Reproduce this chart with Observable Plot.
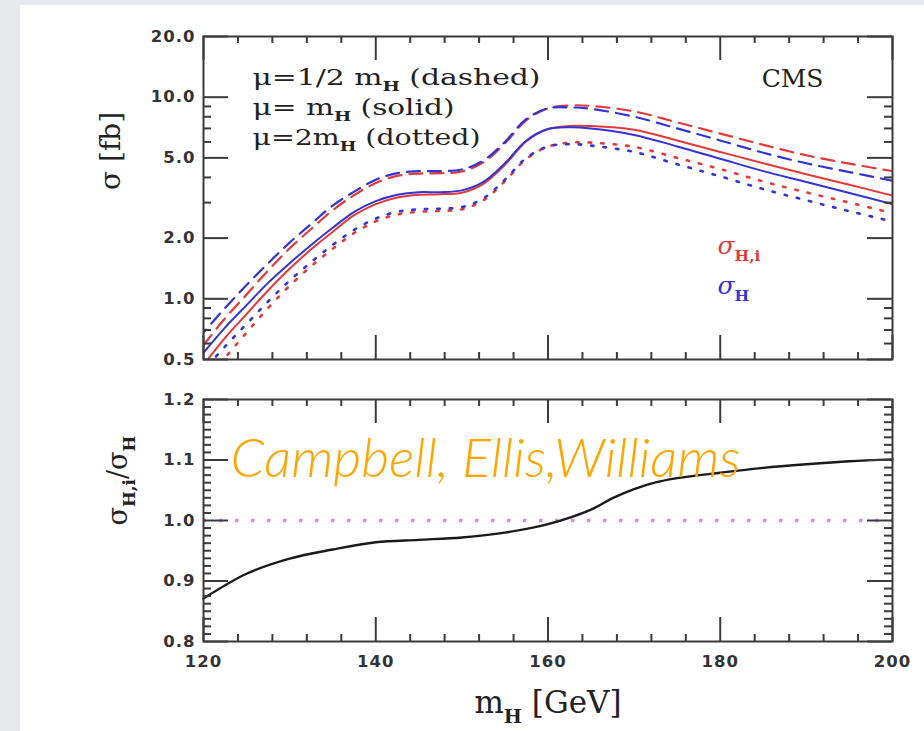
<!DOCTYPE html>
<html>
<head>
<meta charset="utf-8">
<script src="https://cdn.jsdelivr.net/npm/d3@7"></script>
<script src="https://cdn.jsdelivr.net/npm/@observablehq/plot@0.6"></script>
<style>
  body { margin: 0; width: 924px; height: 731px; overflow: hidden; position: relative; background: #e8e9ed; }
  #sheet { position: absolute; left: 20px; top: 5px; right: 0; bottom: 0; background: #fff; }
  .panel { position: absolute; left: 0; }
</style>
</head>
<body>
<div id="sheet"></div>
<div id="top" class="panel" style="top:0px"></div>
<div id="bottom" class="panel" style="top:380px"></div>
<script>
// Higgs mass grid (GeV) for the cross sections
const mH = [120, 122.5, 125, 127.5, 130, 132.5, 135, 137.5, 140, 142.5, 145, 147.5, 150, 152.5, 155, 157.5, 160, 162.5, 165, 170, 175, 180, 185, 190, 195, 200];

// sigma_H (blue) for mu = mH/2, mH, 2mH  [fb]
const sigHDashed = [0.68, 0.90, 1.17, 1.50, 1.90, 2.35, 2.90, 3.40, 3.90, 4.20, 4.30, 4.30, 4.38, 4.85, 6.00, 7.80, 8.80, 8.90, 8.75, 8.00, 7.00, 6.10, 5.30, 4.70, 4.25, 3.85];
const sigHSolid  = [0.54, 0.72, 0.93, 1.20, 1.50, 1.85, 2.25, 2.70, 3.05, 3.28, 3.38, 3.38, 3.45, 3.80, 4.70, 6.10, 6.95, 7.10, 7.00, 6.50, 5.70, 4.95, 4.30, 3.80, 3.35, 2.95];
const sigHDotted = [0.44, 0.58, 0.75, 0.97, 1.23, 1.52, 1.85, 2.20, 2.50, 2.70, 2.78, 2.80, 2.85, 3.15, 3.90, 5.00, 5.70, 5.85, 5.75, 5.35, 4.65, 4.05, 3.50, 3.08, 2.72, 2.42];

// sigma_H,i (red) for mu = mH/2, mH, 2mH  [fb]
const sigHiDashed = [0.59, 0.80, 1.05, 1.38, 1.78, 2.22, 2.75, 3.27, 3.75, 4.07, 4.18, 4.20, 4.28, 4.75, 5.90, 7.70, 8.80, 9.10, 9.05, 8.50, 7.50, 6.60, 5.80, 5.15, 4.68, 4.30];
const sigHiSolid  = [0.47, 0.64, 0.84, 1.10, 1.41, 1.76, 2.15, 2.60, 2.95, 3.18, 3.28, 3.30, 3.36, 3.72, 4.62, 6.05, 6.95, 7.20, 7.20, 6.90, 6.10, 5.35, 4.70, 4.15, 3.68, 3.25];
const sigHiDotted = [0.38, 0.51, 0.68, 0.90, 1.16, 1.45, 1.77, 2.12, 2.42, 2.62, 2.70, 2.73, 2.78, 3.08, 3.83, 4.95, 5.68, 5.95, 5.95, 5.67, 5.00, 4.40, 3.82, 3.37, 3.00, 2.66];

// ratio sigma_H,i / sigma_H
const ratioMass = [120, 125, 130, 135, 140, 145, 150, 155, 160, 165, 167.5, 170, 172.5, 175, 180, 185, 190, 195, 200];
const ratio     = [0.871, 0.912, 0.937, 0.952, 0.964, 0.968, 0.972, 0.980, 0.994, 1.018, 1.037, 1.052, 1.063, 1.070, 1.079, 1.087, 1.093, 1.098, 1.101];

// axis ticks
const xLabels = [120, 140, 160, 180, 200];
const xMinor = [124, 128, 132, 136, 144, 148, 152, 156, 164, 168, 172, 176, 184, 188, 192, 196];
const yTopLabels = [0.5, 1, 2, 5, 10, 20];
const yTopMinor = [0.6, 0.7, 0.8, 0.9, 3, 4, 6, 7, 8, 9];
const yBotLabels = [0.8, 0.9, 1.0, 1.1, 1.2];
const yBotMinor = d3.range(0, 33).map(i => 0.8 + i * 0.0125).filter(v => Math.abs(v * 10 - Math.round(v * 10)) > 1e-6);

// text
const legendLines = ["μ=1/2 m_{H} (dashed)", "μ= m_{H} (solid)", "μ=2m_{H} (dotted)"];

// layout
const W = 924, ML = 203, MR = 32;
const FW = W - ML - MR;
const TOP_H = 380, TOP_MT = 36, TOP_MB = 21, TOP_FH = TOP_H - TOP_MT - TOP_MB;
const BOT_H = 351, BOT_MT = 19, BOT_MB = 90, BOT_FH = BOT_H - BOT_MT - BOT_MB;

const RED = "#e2393b", BLUE = "#3434d4", INK = "#3a3a3a";
const serif = "'DejaVu Serif', serif";
const sans = "'DejaVu Sans', sans-serif";

const rows = (xs, ys) => xs.map((x, i) => ({x, y: ys[i]}));

// inward ticks on all four sides of a frame
function frameTicks(yMajor, yMinor, yMajLen, yMinLen, fh) {
  const tick = {stroke: INK, strokeWidth: 2};
  return [
    Plot.tickY(yMajor, {y: d => d, insetRight: FW - yMajLen, ...tick}),
    Plot.tickY(yMajor, {y: d => d, insetLeft: FW - yMajLen, ...tick}),
    Plot.tickY(yMinor, {y: d => d, insetRight: FW - yMinLen, ...tick}),
    Plot.tickY(yMinor, {y: d => d, insetLeft: FW - yMinLen, ...tick}),
    Plot.tickX(xLabels, {x: d => d, insetTop: fh - 24, ...tick}),
    Plot.tickX(xLabels, {x: d => d, insetBottom: fh - 24, ...tick}),
    Plot.tickX(xMinor, {x: d => d, insetTop: fh - 7, ...tick}),
    Plot.tickX(xMinor, {x: d => d, insetBottom: fh - 7, ...tick})
  ];
}

const tickLabelStyle = {fontFamily: sans, fontWeight: "bold", fontSize: 16.5, fill: "#333"};
const dotted = {strokeWidth: 2.6, strokeDasharray: "2.5,10"};
const dashed = {strokeWidth: 2.2, strokeDasharray: "13,8"};

// ---------- upper panel: cross sections ----------
const topPlot = Plot.plot({
  width: W, height: TOP_H,
  marginLeft: ML, marginRight: MR, marginTop: TOP_MT, marginBottom: TOP_MB,
  style: {background: "transparent", overflow: "visible", fontFamily: serif},
  x: {domain: [120, 200], axis: null},
  y: {type: "log", domain: [0.5, 20], axis: null},
  marks: [
    Plot.line(rows(mH, sigHiDotted), {x: "x", y: "y", stroke: RED, ...dotted, curve: "catmull-rom", clip: true}),
    Plot.line(rows(mH, sigHDotted), {x: "x", y: "y", stroke: BLUE, ...dotted, strokeDashoffset: 6, curve: "catmull-rom", clip: true}),
    Plot.line(rows(mH, sigHiDashed), {x: "x", y: "y", stroke: RED, ...dashed, curve: "catmull-rom", clip: true}),
    Plot.line(rows(mH, sigHDashed), {x: "x", y: "y", stroke: BLUE, ...dashed, strokeDashoffset: 9, curve: "catmull-rom", clip: true}),
    Plot.line(rows(mH, sigHiSolid), {x: "x", y: "y", stroke: RED, strokeWidth: 2, curve: "catmull-rom", clip: true}),
    Plot.line(rows(mH, sigHSolid), {x: "x", y: "y", stroke: BLUE, strokeWidth: 2, curve: "catmull-rom", clip: true}),
    ...frameTicks(yTopLabels, yTopMinor, 25, 8, TOP_FH),
    Plot.frame({stroke: INK, strokeWidth: 2}),
    Plot.axisY(yTopLabels, {tickSize: 0, tickPadding: 8, tickFormat: d3.format(".1f"), label: null, ...tickLabelStyle}),
    // scale legend, one line per text mark
    ...legendLines.map((line, i) => Plot.text([line], {
      text: d => d, frameAnchor: "top-left", textAnchor: "start", lineAnchor: "middle",
      dx: 49, dy: 41 + 30 * i, fontSize: 22, fill: "#222"
    })),
    Plot.text(["CMS"], {text: d => d, frameAnchor: "top-right", textAnchor: "end", lineAnchor: "middle", dx: -69, dy: 42, fontSize: 25, fill: "#222"}),
    Plot.text(["σ_{H,i}"], {text: d => d, frameAnchor: "top-right", textAnchor: "start", lineAnchor: "middle", dx: -175, dy: 209, fontSize: 25, fill: RED, fontStyle: "italic"}),
    Plot.text(["σ_{H}"], {text: d => d, frameAnchor: "top-right", textAnchor: "start", lineAnchor: "middle", dx: -175, dy: 249, fontSize: 25, fill: BLUE, fontStyle: "italic"}),
    Plot.text(["σ [fb]"], {text: d => d, frameAnchor: "left", rotate: -90, dx: -92, dy: -8, fontSize: 28, fill: "#222"})
  ]
});

// ---------- lower panel: ratio ----------
const botPlot = Plot.plot({
  width: W, height: BOT_H,
  marginLeft: ML, marginRight: MR, marginTop: BOT_MT, marginBottom: BOT_MB,
  style: {background: "transparent", overflow: "visible", fontFamily: serif},
  x: {domain: [120, 200], axis: null},
  y: {domain: [0.8, 1.2], axis: null},
  marks: [
    Plot.ruleY([1.0], {stroke: "#d28fe6", strokeWidth: 3.5, strokeDasharray: "3.5,12.5"}),
    Plot.line(rows(ratioMass, ratio), {x: "x", y: "y", stroke: "#1a1a1a", strokeWidth: 2.4, curve: "catmull-rom"}),
    ...frameTicks(yBotLabels, yBotMinor, 25, 8, BOT_FH),
    Plot.frame({stroke: INK, strokeWidth: 2}),
    Plot.axisY(yBotLabels, {tickSize: 0, tickPadding: 8, tickFormat: d3.format(".1f"), label: null, ...tickLabelStyle}),
    Plot.axisX(xLabels, {tickSize: 0, tickPadding: 14, tickFormat: d3.format("d"), label: null, ...tickLabelStyle}),
    Plot.text(["σ_{H,i}/σ_{H}"], {text: d => d, frameAnchor: "left", rotate: -90, dx: -85, dy: 5, fontSize: 27, fill: "#222"}),
    Plot.text(["m_{H} [GeV]"], {text: d => d, frameAnchor: "bottom", lineAnchor: "middle", dy: 62, fontSize: 31, fill: "#222"}),
    Plot.text(["Campbell, Ellis,Williams"], {
      text: d => d, frameAnchor: "top-left", textAnchor: "start", lineAnchor: "middle",
      dx: 27, dy: 60, fontSize: 54, fill: "#ffa500", fontStyle: "italic", fontWeight: 300, fontFamily: "Lato, sans-serif"
    })
  ]
});

document.getElementById("top").appendChild(topPlot);
document.getElementById("bottom").appendChild(botPlot);

// turn "_{...}" markup into subscripts
function subscripts(svg) {
  d3.select(svg).selectAll("text").each(function () {
    const s = this.textContent;
    if (!s.includes("_{")) return;
    const fs = parseFloat(getComputedStyle(this).fontSize) || 20;
    const shift = fs * 0.3;
    const parts = s.split(/(_\{[^}]*\})/);
    this.textContent = "";
    let down = false;
    for (const p of parts) {
      if (!p) continue;
      const t = document.createElementNS("http://www.w3.org/2000/svg", "tspan");
      if (p.startsWith("_{")) {
        t.textContent = p.slice(2, -1);
        t.setAttribute("font-size", String(fs * 0.62));
        t.setAttribute("font-style", "normal");
        t.setAttribute("font-weight", "bold");
        t.setAttribute("dy", String(shift));
        down = true;
      } else {
        t.textContent = p;
        if (down) t.setAttribute("dy", String(-shift));
        down = false;
      }
      this.appendChild(t);
    }
  });
}
subscripts(topPlot);
subscripts(botPlot);

// tick labels use a slightly spaced bold face
d3.selectAll("[aria-label$='tick label'] text").attr("letter-spacing", "1");

// widths of the legend lines and of the credit line
const spans = {"μ=1/2": 288, "μ= m": 202, "μ=2m": 228, "Campbell": 510};
for (const svg of [topPlot, botPlot]) {
  d3.select(svg).selectAll("text").each(function () {
    const s = this.textContent;
    for (const k in spans) if (s.startsWith(k)) {
      this.setAttribute("textLength", spans[k]);
      this.setAttribute("lengthAdjust", "spacingAndGlyphs");
    }
  });
}
</script>
</body>
</html>
